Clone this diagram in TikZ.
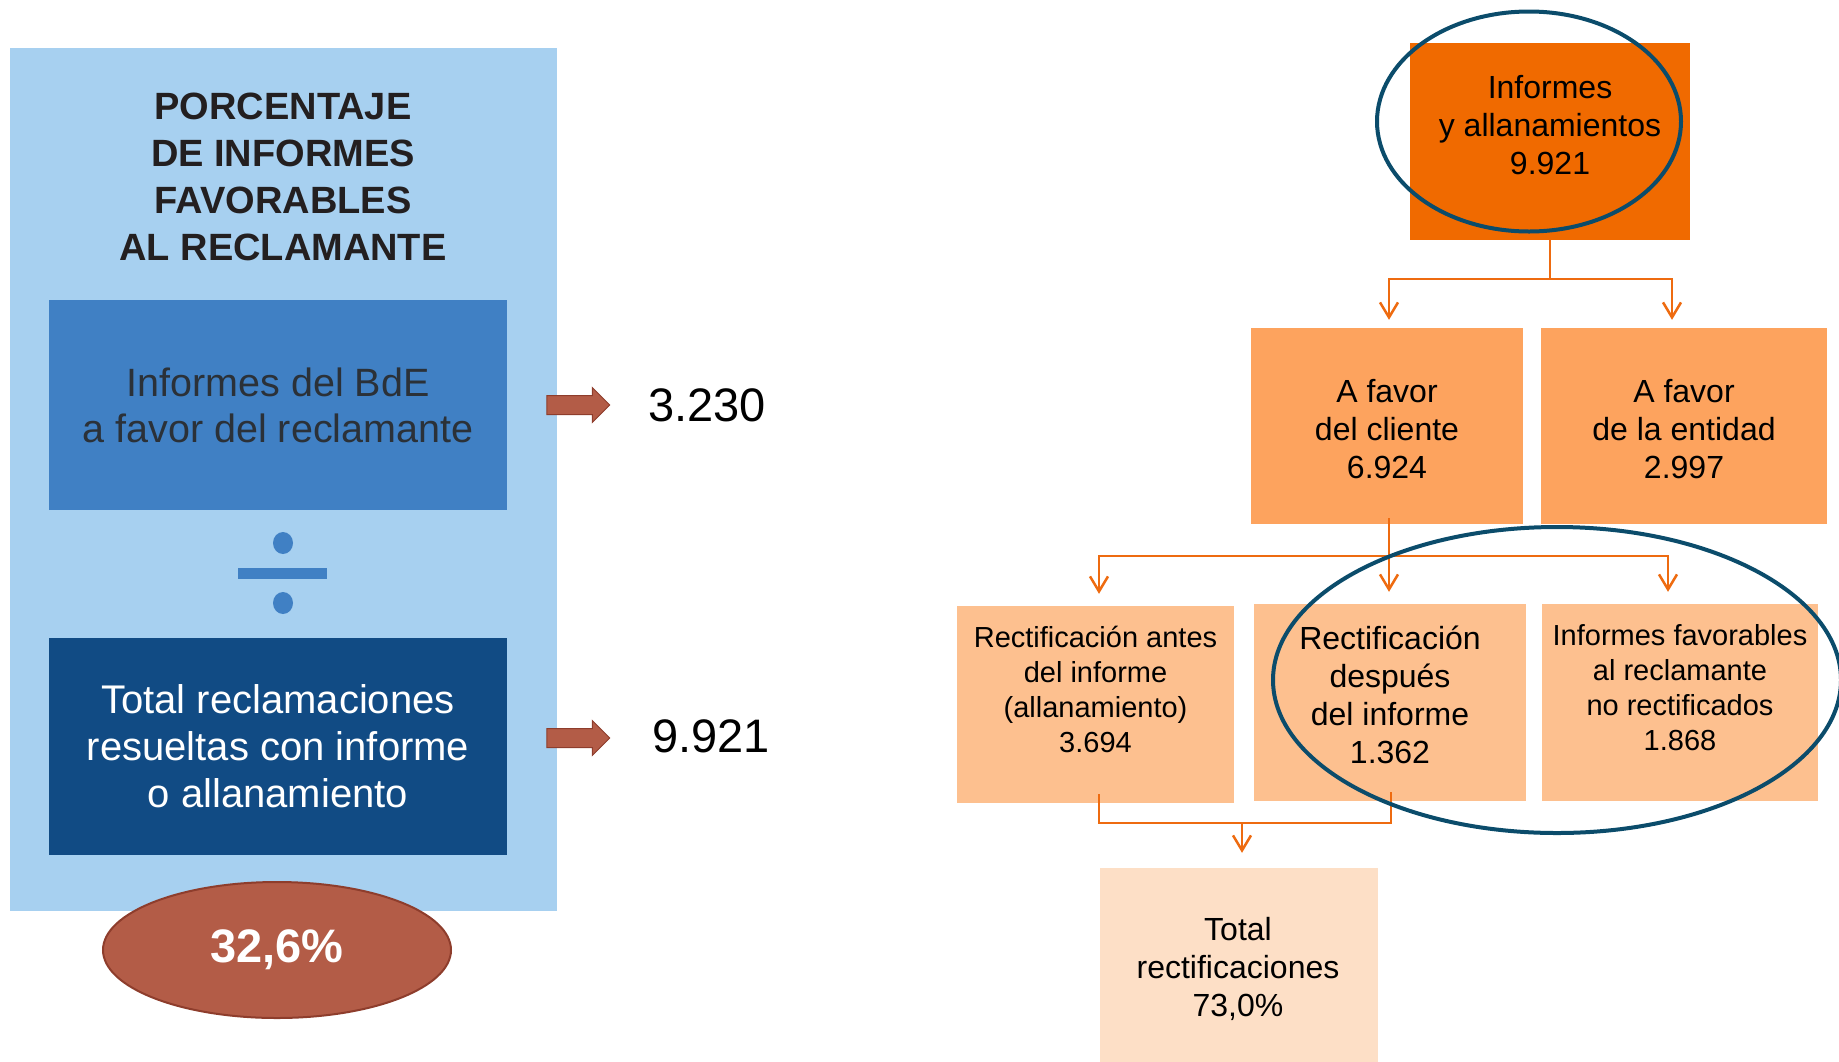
\documentclass[tikz,border=0pt]{standalone}
\usepackage{fontspec}
\setmainfont{Liberation Sans}
\usetikzlibrary{arrows.meta,calc,shapes.geometric,shapes.arrows}

\definecolor{skyback}{HTML}{A7D0F0}
\definecolor{midblue}{HTML}{4080C4}
\definecolor{deepblue}{HTML}{114B84}
\definecolor{titleink}{HTML}{231F20}
\definecolor{greyink}{HTML}{2B3138}
\definecolor{brick}{HTML}{B35C47}
\definecolor{brickedge}{HTML}{8E3D2C}
\definecolor{hotorange}{HTML}{F06A00}
\definecolor{midorange}{HTML}{FDA35E}
\definecolor{softorange}{HTML}{FDC08F}
\definecolor{paleorange}{HTML}{FDDFC6}
\definecolor{linkorange}{HTML}{EE6B10}
\definecolor{ringblue}{HTML}{0B4C6B}

\begin{document}
\begin{tikzpicture}[
  x=1pt, y=-1pt,
  font=\fontsize{32}{38}\selectfont,
  bluebox/.style={minimum width=458pt, inner sep=0pt, align=center},
  pctoval/.style={ellipse, fill=brick, draw=brickedge, line width=2pt, minimum width=348pt, minimum height=136pt,
    inner sep=0pt, text=white, font=\fontsize{47}{50}\selectfont\bfseries},
  blockarrow/.style={single arrow, fill=brick, draw=brickedge, line width=1pt, minimum height=63pt,
    inner xsep=0pt, inner ysep=9pt, single arrow head extend=8pt},
  bignum/.style={font=\fontsize{47}{50}\selectfont},
  stepbox/.style={inner sep=0pt, minimum height=197pt},
  txt/.style={align=center},
  smalltxt/.style={align=center, font=\fontsize{29}{35}\selectfont},
  link/.style={draw=linkorange, line width=2.5pt},
  thinlink/.style={draw=linkorange, line width=1.3pt},
  tip/.style={-{Straight Barb[length=15pt,width=18pt]}},
  ring/.style={draw=ringblue, line width=4pt}
]

\useasboundingbox (0,0) rectangle (1839,1061);

% left: percentage panel
\begin{scope}
  \fill[skyback] (10,48) rectangle (557,911);
  \node[align=center, text=titleink, font=\fontsize{38}{47}\selectfont\bfseries] (title) at (283,177)
    {PORCENTAJE\\DE INFORMES\\FAVORABLES\\AL RECLAMANTE};
  \node[bluebox, fill=midblue, minimum height=210pt, text=greyink, font=\fontsize{39.5}{46}\selectfont] (bde) at (278,405)
    {Informes del BdE\\a favor del reclamante};
  \fill[midblue] (283,543) ellipse (10 and 11);
  \fill[midblue] (238,567.5) rectangle (327,578.5);
  \fill[midblue] (283,603) ellipse (10 and 11);
  \node[bluebox, fill=deepblue, minimum height=217pt, text=white, font=\fontsize{40}{47}\selectfont] (allrec) at (278,746.5)
    {Total reclamaciones\\resueltas con informe\\o allanamiento};
  \node[pctoval] (pct) at (277,950) {32,6\%};

  \node[blockarrow] (arr1) at (573.5,405) {};
  \node[blockarrow] (arr2) at (573.5,738) {};
  \node[bignum] (num1) at (707,405) {3.230};
  \node[bignum] (num2) at (711,736) {9.921};
\end{scope}

% right: tree of reports
\begin{scope}
  \node[stepbox, fill=hotorange, minimum width=280pt] (top) at (1550,141.5) {};
  \node[txt] (top-t) at (1550,125) {Informes\\y allanamientos\\9.921};

  \node[stepbox, fill=midorange, minimum width=272pt, minimum height=196pt] (cliente) at (1387,426) {};
  \node[txt] (cliente-t) at (1387,429) {A favor\\del cliente\\6.924};
  \node[stepbox, fill=midorange, minimum width=286pt, minimum height=196pt] (entidad) at (1684,426) {};
  \node[txt] (entidad-t) at (1684,429) {A favor\\de la entidad\\2.997};

  \node[stepbox, fill=softorange, minimum width=277pt] (antes) at (1095.5,704.5) {};
  \node[smalltxt] (antes-t) at (1095.5,689.5) {Rectificación antes\\del informe\\(allanamiento)\\3.694};
  \node[stepbox, fill=softorange, minimum width=272pt] (despues) at (1390,702.5) {};
  \node[txt] (despues-t) at (1390,695) {Rectificación\\después\\del informe\\1.362};
  \node[stepbox, fill=softorange, minimum width=276pt] (favor) at (1680,702.5) {};
  \node[smalltxt] (favor-t) at (1680,688) {Informes favorables\\al reclamante\\no rectificados\\1.868};

  \node[stepbox, fill=paleorange, minimum width=278pt, minimum height=200pt] (total) at (1239,968) {};
  \node[txt] (total-t) at (1238,969) {Total\\rectificaciones\\73,0\%};

  \coordinate (j1) at (1550,279);
  \draw[link] (top.south) -- (j1);
  \draw[link,tip] (j1) -| ($(cliente.north)+(2,-8)$);
  \draw[link,tip] (j1) -| ($(entidad.north)+(-12,-8)$);

  \coordinate (j2) at (1389,556);
  \draw[link] ($(cliente.south)+(2,-6)$) -- (j2);
  \draw[link,tip] (j2) -| ($(antes.north)+(3.5,-12)$);
  \draw[link,tip] (j2) -- ($(j2 |- despues.north)+(0,-12)$);
  \draw[link,tip] (j2) -| ($(favor.north)+(-12,-12)$);

  \coordinate (j3) at (1242,823);
  \draw[thinlink] ($(antes.south)+(3.5,-9)$) |- (j3);
  \draw[link] ($(despues.south)+(1,-9)$) |- (j3);
  \draw[link,tip] (j3) -- ($(j3 |- total.north)+(0,-15)$);

  \draw[ring] (1529,121.5) ellipse (152 and 110);
  \draw[ring] (1557,680) ellipse (284 and 153);
\end{scope}

\end{tikzpicture}
\end{document}
